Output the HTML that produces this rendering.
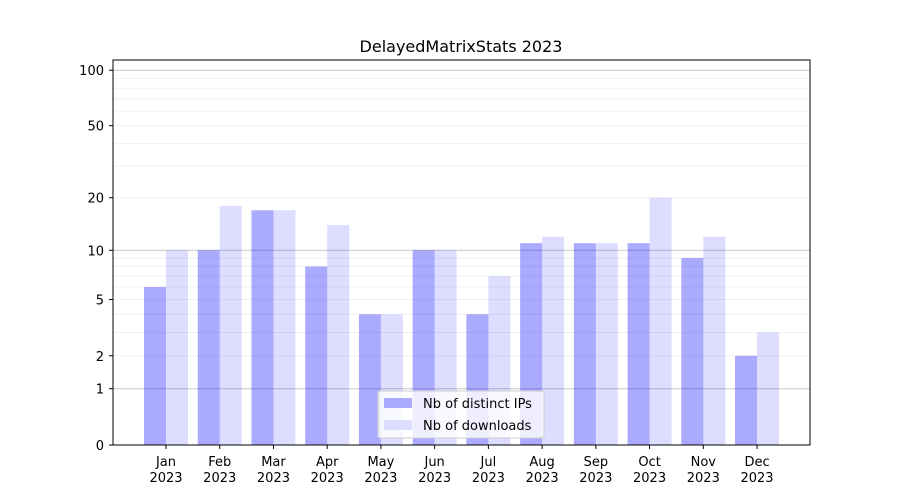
<!DOCTYPE html>
<html><head><style>body{margin:0;background:#fff}svg{display:block;font-family:"DejaVu Sans","Liberation Sans",sans-serif}</style></head>
<body>
<svg width="900" height="500" viewBox="0 0 900 500" xmlns="http://www.w3.org/2000/svg">
<rect width="900" height="500" fill="#fff"/>
<text x="461" y="52" font-size="16" text-anchor="middle" fill="#000">DelayedMatrixStats 2023</text>
<g id="grid"></g>
<g id="bars"></g>
<rect x="113" y="60" width="697" height="385" fill="none" stroke="#000" stroke-width="1"/>
<g id="ticks" font-size="13" fill="#000"></g>
<g>
<rect x="378" y="391" width="166" height="47" fill="#fff" fill-opacity="0.8" stroke="#ccc" rx="2"/>
<rect x="384" y="398" width="28" height="10" fill="#aaaaff"/>
<text x="423" y="408" font-size="13">Nb of distinct IPs</text>
<rect x="384" y="420" width="28" height="10" fill="#ddddff"/>
<text x="423" y="430" font-size="13">Nb of downloads</text>
</g>
</svg>
<script>
const ns="http://www.w3.org/2000/svg";
function Y(v){return 445-187*Math.log10(1+v);}
function el(p,t,a,txt){const e=document.createElementNS(ns,t);for(const k in a)e.setAttribute(k,a[k]);if(txt!==undefined)e.textContent=txt;document.getElementById(p).appendChild(e);return e;}
const minors=[2,3,4,5,6,7,8,9,20,30,40,50,60,70,80,90];
minors.forEach(v=>el("grid","line",{x1:113,x2:810,y1:Y(v),y2:Y(v),stroke:"#eee","stroke-width":0.8}));
[1,10,100].forEach(v=>el("grid","line",{x1:113,x2:810,y1:Y(v),y2:Y(v),stroke:"#c8c8c8","stroke-width":1}));
const ips=[6,10,17,8,4,10,4,11,11,11,9,2],dl=[10,18,17,14,4,10,7,12,11,20,12,3];
const m=["Jan","Feb","Mar","Apr","May","Jun","Jul","Aug","Sep","Oct","Nov","Dec"];
for(let i=0;i<12;i++){const c=166+i*53.73;
el("bars","rect",{x:c-22,y:Y(ips[i]),width:22,height:445-Y(ips[i]),fill:"#0000ff","fill-opacity":0.333});
el("bars","rect",{x:c,y:Y(dl[i]),width:22,height:445-Y(dl[i]),fill:"#0000ff","fill-opacity":0.133});
el("ticks","line",{x1:c,x2:c,y1:445,y2:449,stroke:"#000"});
el("ticks","text",{x:c,y:466,"text-anchor":"middle"},m[i]);
el("ticks","text",{x:c,y:482,"text-anchor":"middle"},"2023");}
[0,1,2,5,10,20,50,100].forEach(v=>{const y=Y(v);
el("ticks","line",{x1:109,x2:113,y1:y,y2:y,stroke:"#000"});
el("ticks","text",{x:104,y:y+5,"text-anchor":"end"},String(v));});
</script>
</body></html>
